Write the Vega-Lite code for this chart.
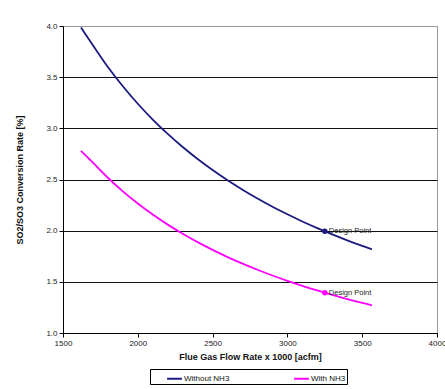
{
  "$schema": "https://vega.github.io/schema/vega-lite/v6.json",
  "width": 374,
  "height": 307,
  "autosize": {"type": "none"},
  "padding": {"left": 63, "top": 26, "right": 8, "bottom": 56},
  "background": "white",
  "config": {
    "font": "Liberation Sans",
    "view": {"stroke": "#999", "strokeWidth": 1},
    "axis": {"labelFont": "Liberation Sans", "titleFont": "Liberation Sans", "labelFontSize": 8, "labelColor": "#222", "titleFontSize": 9, "titleFontWeight": "bold", "titleColor": "#111", "domainColor": "#000", "tickColor": "#000", "tickSize": 4}
  },
  "datasets": {
    "curves": [
      {"flow": 1620, "rate": 3.985, "series": "Without NH3"},
      {"flow": 1700, "rate": 3.812, "series": "Without NH3"},
      {"flow": 1800, "rate": 3.600, "series": "Without NH3"},
      {"flow": 1900, "rate": 3.411, "series": "Without NH3"},
      {"flow": 2000, "rate": 3.240, "series": "Without NH3"},
      {"flow": 2100, "rate": 3.086, "series": "Without NH3"},
      {"flow": 2200, "rate": 2.945, "series": "Without NH3"},
      {"flow": 2300, "rate": 2.817, "series": "Without NH3"},
      {"flow": 2400, "rate": 2.700, "series": "Without NH3"},
      {"flow": 2500, "rate": 2.592, "series": "Without NH3"},
      {"flow": 2600, "rate": 2.492, "series": "Without NH3"},
      {"flow": 2700, "rate": 2.400, "series": "Without NH3"},
      {"flow": 2800, "rate": 2.314, "series": "Without NH3"},
      {"flow": 2900, "rate": 2.234, "series": "Without NH3"},
      {"flow": 3000, "rate": 2.160, "series": "Without NH3"},
      {"flow": 3100, "rate": 2.090, "series": "Without NH3"},
      {"flow": 3200, "rate": 2.025, "series": "Without NH3"},
      {"flow": 3300, "rate": 1.964, "series": "Without NH3"},
      {"flow": 3400, "rate": 1.906, "series": "Without NH3"},
      {"flow": 3500, "rate": 1.851, "series": "Without NH3"},
      {"flow": 3565, "rate": 1.818, "series": "Without NH3"},
      {"flow": 1620, "rate": 2.780, "series": "With NH3"},
      {"flow": 1700, "rate": 2.665, "series": "With NH3"},
      {"flow": 1800, "rate": 2.517, "series": "With NH3"},
      {"flow": 1900, "rate": 2.384, "series": "With NH3"},
      {"flow": 2000, "rate": 2.265, "series": "With NH3"},
      {"flow": 2100, "rate": 2.157, "series": "With NH3"},
      {"flow": 2200, "rate": 2.059, "series": "With NH3"},
      {"flow": 2300, "rate": 1.970, "series": "With NH3"},
      {"flow": 2400, "rate": 1.888, "series": "With NH3"},
      {"flow": 2500, "rate": 1.812, "series": "With NH3"},
      {"flow": 2600, "rate": 1.742, "series": "With NH3"},
      {"flow": 2700, "rate": 1.678, "series": "With NH3"},
      {"flow": 2800, "rate": 1.618, "series": "With NH3"},
      {"flow": 2900, "rate": 1.562, "series": "With NH3"},
      {"flow": 3000, "rate": 1.510, "series": "With NH3"},
      {"flow": 3100, "rate": 1.461, "series": "With NH3"},
      {"flow": 3200, "rate": 1.416, "series": "With NH3"},
      {"flow": 3300, "rate": 1.373, "series": "With NH3"},
      {"flow": 3400, "rate": 1.332, "series": "With NH3"},
      {"flow": 3500, "rate": 1.294, "series": "With NH3"},
      {"flow": 3565, "rate": 1.271, "series": "With NH3"}
    ],
    "design": [
      {"flow": 3250, "rate": 1.994, "series": "Without NH3", "label": "Design Point"},
      {"flow": 3250, "rate": 1.394, "series": "With NH3", "label": "Design Point"}
    ]
  },
  "encoding": {
    "x": {"field": "flow", "type": "quantitative", "scale": {"domain": [1500, 4000], "nice": false},
      "axis": {"title": "Flue Gas Flow Rate x 1000 [acfm]", "values": [1500, 2000, 2500, 3000, 3500, 4000], "grid": false, "format": "d", "labelPadding": 2, "titlePadding": 5, "labelFlush": false}},
    "y": {"field": "rate", "type": "quantitative", "scale": {"domain": [1, 4], "nice": false, "zero": false},
      "axis": {"title": "SO2/SO3 Conversion Rate [%]", "values": [1, 1.5, 2, 2.5, 3, 3.5, 4], "format": ".1f", "grid": true,
        "gridColor": {"condition": {"test": "datum.value == 4", "value": "#999"}, "value": "#111"}, "gridOpacity": 1, "gridWidth": 1, "labelPadding": 2, "titlePadding": 21}}
  },
  "layer": [
    {
      "data": {"name": "curves"},
      "mark": {"type": "line", "strokeWidth": 1.8, "interpolate": "cardinal"},
      "encoding": {
        "color": {"field": "series", "type": "nominal",
          "scale": {"domain": ["Without NH3", "With NH3"], "range": ["#1a1a80", "#ff00ff"]},
          "legend": {"title": null, "orient": "none", "legendX": 87, "legendY": 343, "direction": "horizontal",
            "symbolType": "stroke", "symbolSize": 220, "symbolStrokeWidth": 2, "labelFontSize": 8, "labelFont": "Liberation Sans", "labelFontWeight": "normal", "labelColor": "#111",
            "labelOffset": 1, "columnPadding": 48, "padding": 1, "strokeColor": "#000", "fillColor": "white", "symbolOffset": 15}}
      }
    },
    {
      "data": {"name": "design"},
      "mark": {"type": "point", "filled": true, "size": 30, "opacity": 1},
      "encoding": {"color": {"field": "series", "type": "nominal", "legend": null}}
    },
    {
      "data": {"name": "design"},
      "mark": {"type": "text", "align": "left", "dx": 4, "dy": 0, "fontSize": 7.5, "font": "Liberation Sans", "color": "#222"},
      "encoding": {"text": {"field": "label"}}
    }
  ]
}
